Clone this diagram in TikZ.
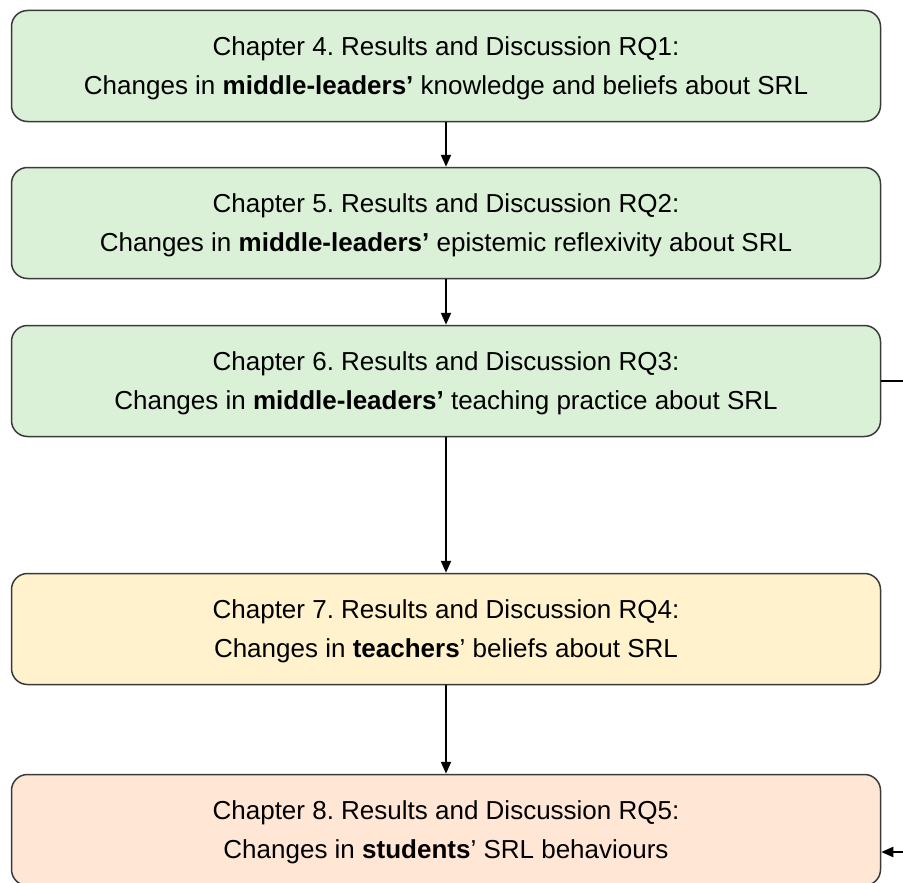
\documentclass[tikz,border=0pt]{standalone}
\usepackage{fontspec}
\setmainfont{Liberation Sans}
\usetikzlibrary{arrows.meta}
\definecolor{greenfill}{HTML}{DAF1D7}
\definecolor{yellowfill}{HTML}{FFF2CC}
\definecolor{peachfill}{HTML}{FFE6D5}
\definecolor{edgegray}{HTML}{3A3A3A}
\frenchspacing
\begin{document}
\begin{tikzpicture}[x=1pt,y=-1pt,
  chapterbox/.style={draw=edgegray, line width=1.5pt, rounded corners=16pt,
    minimum width=869pt, minimum height=111pt, inner sep=0pt},
  chaptertext/.style={align=center, font=\fontsize{26}{39}\selectfont, inner sep=0pt},
  flow/.style={line width=2pt, -{Triangle[length=12pt,width=10pt]}}]
\useasboundingbox (0,0) rectangle (903,883);
\clip (0,0) rectangle (903,883);
% chapter boxes
\node[chapterbox, fill=greenfill] (c4) at (446,66) {};
\node[chaptertext] (t4) at (446,68)
  {Chapter 4. Results and Discussion RQ1:\\Changes in \textbf{middle-leaders’} knowledge and beliefs about SRL};
\node[chapterbox, fill=greenfill] (c5) at (446,223) {};
\node[chaptertext] (t5) at (446,225)
  {Chapter 5. Results and Discussion RQ2:\\Changes in \textbf{middle-leaders’} epistemic reflexivity about SRL};
\node[chapterbox, fill=greenfill] (c6) at (446,381) {};
\node[chaptertext] (t6) at (446,383)
  {Chapter 6. Results and Discussion RQ3:\\Changes in \textbf{middle-leaders’} teaching practice about SRL};
\node[chapterbox, fill=yellowfill] (c7) at (446,629) {};
\node[chaptertext] (t7) at (446,631)
  {Chapter 7. Results and Discussion RQ4:\\Changes in \textbf{teachers}’ beliefs about SRL};
\node[chapterbox, fill=peachfill] (c8) at (446,830) {};
\node[chaptertext] (t8) at (446,832)
  {Chapter 8. Results and Discussion RQ5:\\Changes in \textbf{students}’ SRL behaviours};
% connectors
\draw[flow] (c4) -- (c5);
\draw[flow] (c5) -- (c6);
\draw[flow] (c6) -- (c7);
\draw[flow] (c7) -- (c8);
\draw[flow] (c6.east) -- ++(50,0) |- ([yshift=-22pt]c8.east);
\end{tikzpicture}
\end{document}
